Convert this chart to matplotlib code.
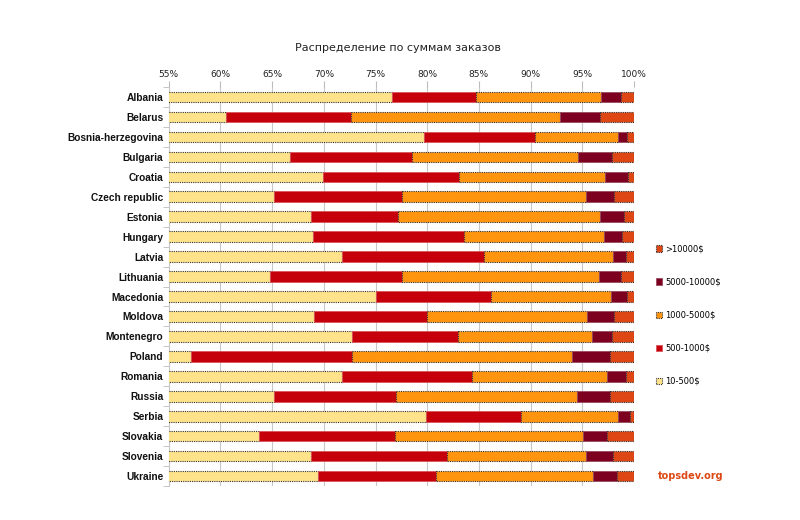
import matplotlib
matplotlib.use("Agg")
import matplotlib.pyplot as plt
import numpy as np

countries = ["Albania", "Belarus", "Bosnia-herzegovina", "Bulgaria", "Croatia",
             "Czech republic", "Estonia", "Hungary", "Latvia", "Lithuania",
             "Macedonia", "Moldova", "Montenegro", "Poland", "Romania", "Russia",
             "Serbia", "Slovakia", "Slovenia", "Ukraine"]

s_10_500 = [76.6, 60.5, 79.65, 66.7, 69.9, 65.2, 68.8, 68.95, 71.8, 64.8,
            75.0, 69.0, 72.7, 57.15, 71.8, 65.2, 79.9, 63.7, 68.75, 69.4]
s_500_1000 = [8.1, 12.15, 10.75, 11.8, 13.2, 12.4, 8.4, 14.65, 13.7, 12.8,
              11.2, 11.0, 10.3, 15.55, 12.5, 11.8, 9.2, 13.15, 13.15, 11.4]
s_1000_5000 = [12.1, 20.15, 8.1, 16.1, 14.1, 17.8, 19.5, 13.45, 12.5, 19.0,
               11.6, 15.5, 12.9, 21.35, 13.05, 17.45, 9.4, 18.25, 13.45, 15.2]
s_5000_10000 = [1.95, 3.9, 0.8, 3.3, 2.2, 2.7, 2.3, 1.8, 1.2, 2.1,
                1.5, 2.6, 2.0, 3.65, 1.85, 3.25, 1.1, 2.3, 2.65, 2.4]
s_10000 = [1.25, 3.3, 0.7, 2.1, 0.6, 1.9, 1.0, 1.15, 0.8, 1.3,
           0.7, 1.9, 2.1, 2.3, 0.8, 2.3, 0.4, 2.6, 2.0, 1.6]

series_labels = ["10-500$", "500-1000$", "1000-5000$", "5000-10000$", ">10000$"]
xticks = [55, 60, 65, 70, 75, 80, 85, 90, 95, 100]

colors = ["#FFE38A", "#C5000B", "#FF950E", "#7E0021", "#DE4714"]
edge_dotted = [True, False, True, False, True]
edge_solid_colors = [None, "#D9555C", None, "#9A4A5E", None]

fig = plt.figure(figsize=(8, 5.2), dpi=100)
ax = fig.add_axes([0.211, 0.065, 0.5815, 0.768])

series = [s_10_500, s_500_1000, s_1000_5000, s_5000_10000, s_10000]
y = np.arange(len(countries))
left = np.zeros(len(countries))
handles = []
for vals, lab, c, dotted, ec in zip(series, series_labels, colors, edge_dotted, edge_solid_colors):
    vals = np.array(vals, dtype=float)
    if dotted:
        bars = ax.barh(y, vals, left=left, height=0.52, color=c, edgecolor="#333333",
                       linewidth=0.8, linestyle=(0, (1, 1)), label=lab, zorder=3)
    else:
        bars = ax.barh(y, vals, left=left, height=0.52, color=c, edgecolor=ec,
                       linewidth=0.6, label=lab, zorder=3)
    handles.append(bars)
    left += vals

ax.set_xlim(55, 100)
ax.set_ylim(len(countries) - 0.5, -0.5)
ax.set_xticks(xticks)
ax.set_xticklabels([f"{t}%" for t in xticks], fontsize=6.5, color="#222222")
ax.xaxis.tick_top()
ax.tick_params(axis="x", length=4, color="#bbbbbb", pad=2)
ax.set_yticks(y)
ax.set_yticklabels(countries, fontsize=7.3, fontweight="bold", color="#111111",
                   family="Liberation Sans")
ax.set_yticks(np.arange(-0.5, len(countries), 1), minor=True)
ax.tick_params(axis="y", which="major", length=0, pad=4)
ax.tick_params(axis="y", which="minor", length=4, color="#bbbbbb")
ax.grid(axis="x", color="#c8c8c8", linewidth=0.8, zorder=0)
for s in ax.spines.values():
    s.set_visible(False)
ax.spines["left"].set_visible(True)
ax.spines["left"].set_color("#c8c8c8")
ax.spines["left"].set_linewidth(0.8)

fig.text(0.497, 0.907, "Распределение по суммам заказов", ha="center", va="center",
         fontsize=8, color="#222222")

leg = fig.legend(handles[::-1], series_labels[::-1], loc="center left",
                 bbox_to_anchor=(0.81, 0.394), frameon=False, fontsize=6,
                 handlelength=0.8, handleheight=0.8, labelspacing=2.9,
                 handletextpad=0.4)

fig.text(0.822, 0.085, "topsdev.org", ha="left", va="center", fontsize=7,
         fontweight="bold", color="#DD4814")

fig.savefig("out.png", dpi=100, facecolor="white")
